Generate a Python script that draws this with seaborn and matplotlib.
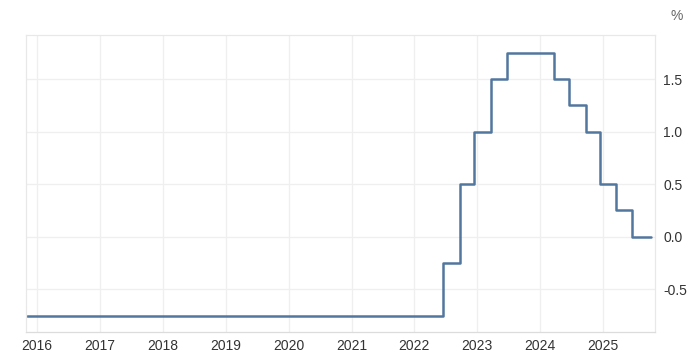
import matplotlib
matplotlib.use("Agg")
import matplotlib.pyplot as plt
import matplotlib.dates as mdates
import seaborn as sns
import pandas as pd

dates = ["2015-11-01", "2022-06-16", "2022-09-22", "2022-12-15", "2023-03-23",
         "2023-06-22", "2024-03-21", "2024-06-20", "2024-09-26", "2024-12-12",
         "2025-03-20", "2025-06-19", "2025-10-05"]
rates = [-0.75, -0.25, 0.5, 1.0, 1.5, 1.75, 1.5, 1.25, 1.0, 0.5, 0.25, 0.0, 0.0]
year_ticks = list(range(2016, 2026))
y_ticks = [-0.5, 0.0, 0.5, 1.0, 1.5]
y_tick_labels = ["-0.5", "0.0", "0.5", "1.0", "1.5"]

df = pd.DataFrame({"date": pd.to_datetime(dates), "rate": rates})

sns.set_theme(style="white")
plt.rcParams["font.family"] = ["Liberation Sans", "DejaVu Sans"]
plt.rcParams["axes.unicode_minus"] = False

fig = plt.figure(figsize=(6.96, 3.55), dpi=100)
ax = fig.add_axes([26 / 696, 1 - 332 / 355, (655 - 26) / 696, (332 - 35) / 355])

sns.lineplot(data=df, x="date", y="rate", ax=ax, drawstyle="steps-post",
             color="#52779f", linewidth=1.8)

ax.set_xlim(pd.Timestamp("2015-10-29"), pd.Timestamp("2025-10-30"))
ax.set_ylim(-0.907, 1.919)

ax.set_xticks([pd.Timestamp(f"{y}-01-01") for y in year_ticks])
ax.set_xticklabels([str(y) for y in year_ticks])
ax.set_yticks(y_ticks)
ax.set_yticklabels(y_tick_labels)
ax.yaxis.tick_right()
ax.tick_params(axis="both", length=0, labelsize=10, colors="#333333")
ax.tick_params(axis="x", pad=5)
ax.tick_params(axis="y", pad=6)
ax.set_xlabel("")
ax.set_ylabel("")

ax.grid(True, color="#efefef", linewidth=0.9)
for s in ax.spines.values():
    s.set_color("#e8e8e8")
    s.set_linewidth(0.9)
ax.spines["bottom"].set_color("#dcdcdc")

fig.text(677 / 696, 1 - 16 / 355, "%", fontsize=10, color="#666666",
         ha="center", va="center")

fig.savefig("out.png", dpi=100, facecolor="white")
